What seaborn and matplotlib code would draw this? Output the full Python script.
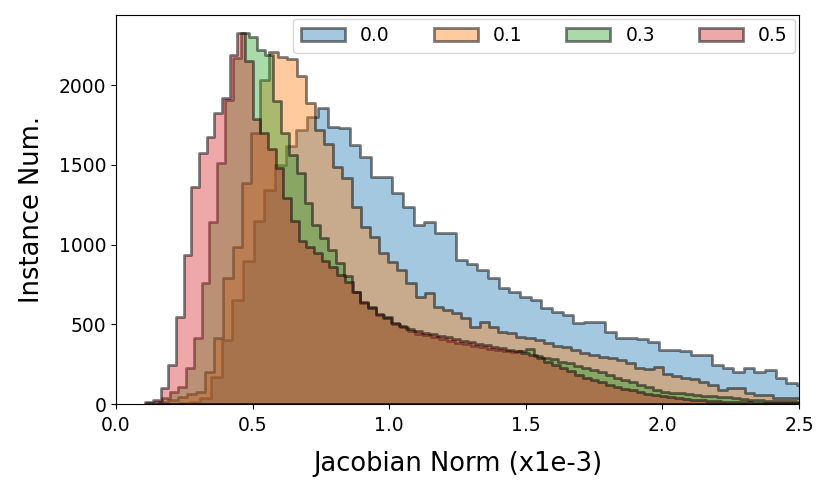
import numpy as np
import pandas as pd
import matplotlib
import matplotlib.pyplot as plt
import seaborn as sns

matplotlib.use("agg")

# legend labels (dropout rate) and colours
labels = ["0.0", "0.1", "0.3", "0.5"]
colors = ["tab:blue", "tab:orange", "tab:green", "tab:red"]

# histogram binning per series: (first edge, bin width), x in units of 1e-3
bin_start = [0.153, 0.1585, 0.110, 0.107]
bin_width = [0.039, 0.0335, 0.029, 0.0281]

# instance counts per bin
counts_00 = [0, 0, 5, 15, 40, 170, 400, 650, 900, 1150,
             1340, 1500, 1620, 1720, 1800, 1855, 1737, 1730, 1624, 1550,
             1425, 1425, 1322, 1237, 1122, 1142, 1072, 1072, 903, 880,
             840, 790, 727, 702, 671, 652, 602, 577, 558, 508,
             515, 515, 451, 413, 413, 405, 390, 340, 340, 330,
             307, 305, 245, 225, 200, 225, 200, 213, 163, 132,
             120]
counts_01 = [10, 25, 45, 60, 75, 200, 415, 790, 985, 1385,
             1700, 2030, 2205, 2175, 2165, 2060, 1885, 1718, 1634, 1488,
             1415, 1237, 1112, 1049, 945, 893, 840, 757, 673, 694,
             610, 589, 569, 537, 485, 516, 485, 453, 443, 422,
             412, 401, 385, 365, 355, 340, 320, 310, 295, 290,
             275, 257, 228, 220, 232, 190, 178, 165, 160, 140,
             120, 90, 100, 98, 72, 58, 55, 40, 38, 36]
counts_03 = [5, 15, 38, 75, 107, 225, 415, 760, 1140, 1510,
             1905, 2170, 2330, 2300, 2220, 2190, 1900, 1700, 1560, 1450,
             1260, 1120, 1040, 965, 885, 800, 700, 635, 610, 560,
             545, 505, 480, 460, 440, 430, 418, 405, 395, 385,
             375, 365, 355, 345, 338, 330, 325, 330, 345, 300,
             290, 280, 265, 255, 240, 228, 212, 198, 180, 163,
             148, 135, 120, 105, 90, 78, 72, 68, 63, 56,
             52, 48, 45, 42, 38, 32, 28, 25, 22, 20,
             18, 16, 14]
counts_05 = [10, 25, 100, 245, 545, 935, 1360, 1575, 1675, 1825,
             1920, 2190, 2325, 2150, 1790, 1700, 1600, 1480, 1290, 1150,
             1020, 985, 950, 900, 860, 810, 765, 700, 640, 605,
             565, 540, 510, 490, 470, 455, 448, 438, 428, 418,
             408, 398, 388, 378, 368, 358, 350, 340, 330, 318,
             305, 288, 265, 245, 225, 205, 185, 165, 150, 135,
             120, 108, 96, 85, 75, 65, 56, 48, 42, 36,
             31, 27, 23, 20, 17, 15, 13, 11, 10, 9,
             8, 7, 6, 5, 5, 4]

all_counts = [counts_00, counts_01, counts_03, counts_05]

fig = plt.figure(figsize=(8.31, 4.87), dpi=100)
ax = fig.add_axes([0.1396, 0.1704, 0.8219, 0.7988])

for lab, col, start, width, cnt in zip(labels, colors, bin_start, bin_width, all_counts):
    n = len(cnt)
    centers = start + width * (np.arange(n) + 0.5)
    df = pd.DataFrame({"x": centers, "w": cnt})
    sns.histplot(data=df, x="x", weights="w", binwidth=width,
                 binrange=(start, start + width * n), element="step", fill=True,
                 color=col, alpha=0.4, edgecolor=(0, 0, 0, 0.5), linewidth=2,
                 label=lab, ax=ax)

ax.set_xlim(0, 2.5)
ax.set_ylim(0, 2440)
ax.set_yticks([0, 500, 1000, 1500, 2000])
ax.tick_params(labelsize=13.5)
ax.tick_params(axis="x", pad=5)
ax.set_xlabel("Jacobian Norm (x1e-3)", fontsize=18.5, labelpad=12)
ax.set_ylabel("Instance Num.", fontsize=18.5, labelpad=10)
ax.legend(ncol=4, loc="upper right", fontsize=13.5, handlelength=2.35,
          handletextpad=0.8, columnspacing=2.35, borderaxespad=0.2)

fig.savefig("out.png", dpi=100)
plt.close("all")
